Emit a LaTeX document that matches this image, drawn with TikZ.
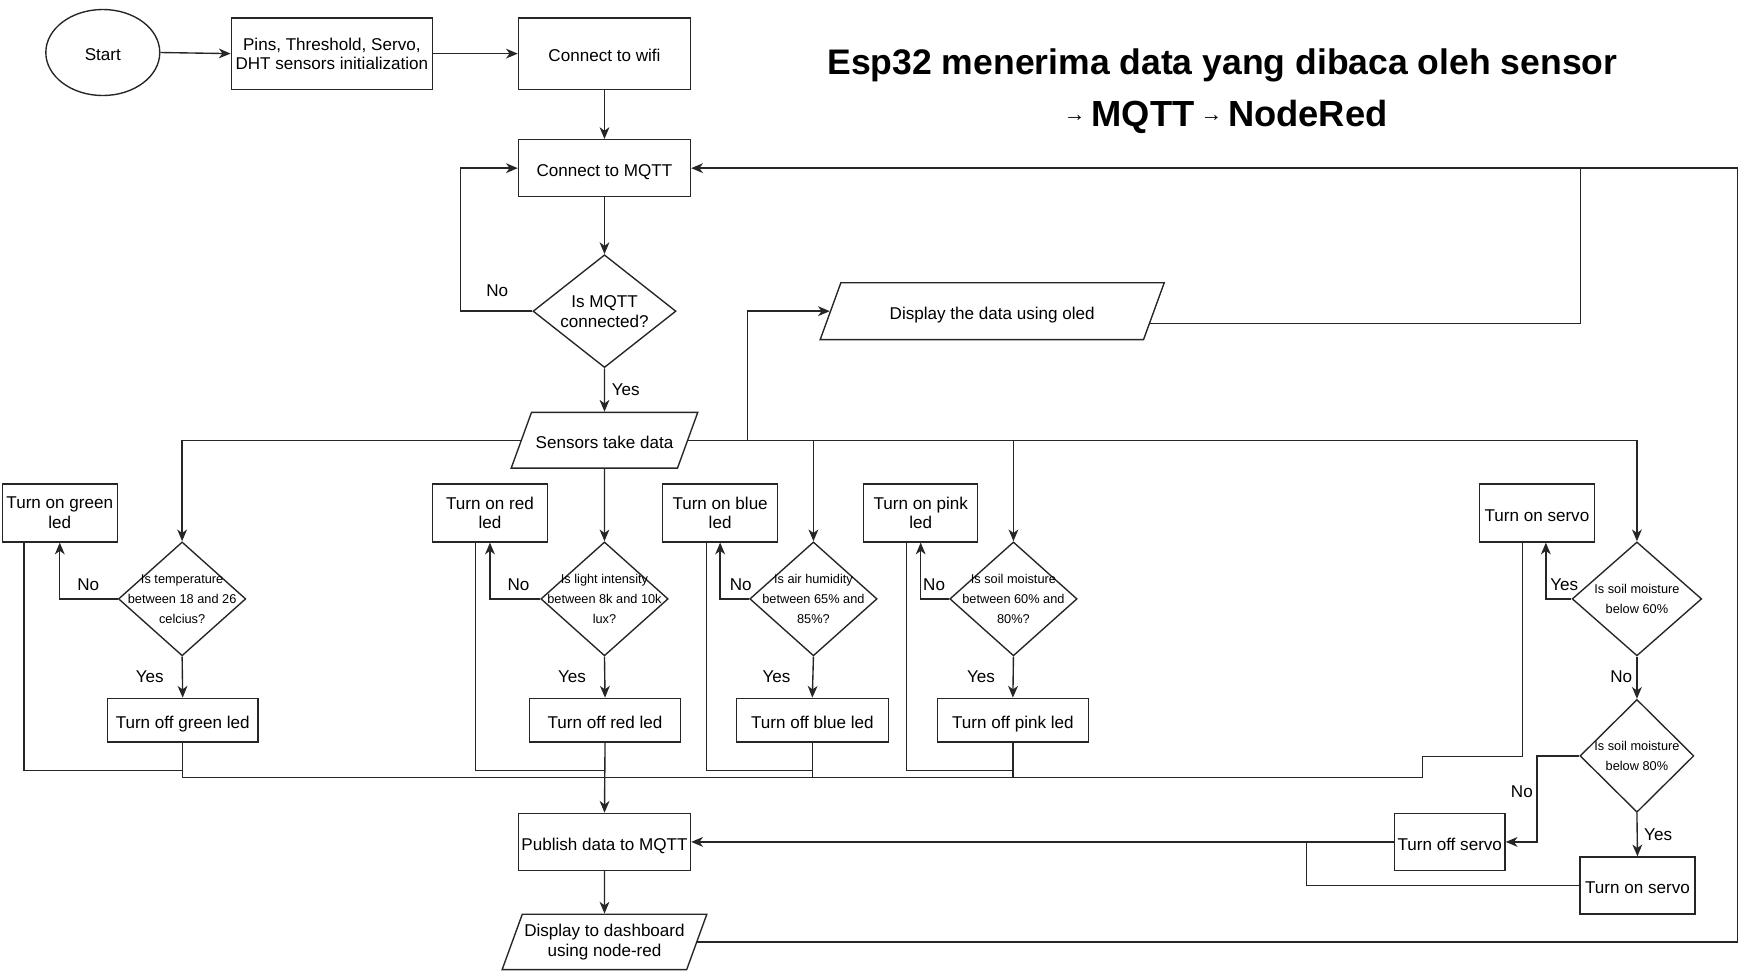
\documentclass[tikz,border=0pt]{standalone}
\usepackage{fontspec}
\setmainfont{Liberation Sans}
\usetikzlibrary{shapes.geometric,arrows.meta,calc}
\tikzset{
  ln/.style={line width=0.7pt, draw=black!85},
  arr/.style={ln, -{Stealth[length=6pt,width=5pt,inset=1.8pt]}},
  txt/.style={font=\fontsize{8.7}{9.9}\selectfont},
  box/.style={txt, draw=black!85, line width=0.7pt, rectangle, inner sep=1pt, align=center},
  one/.style={text height=8.6pt, text depth=0.2pt},
  dtext/.style={font=\fontsize{6.5}{10.2}\selectfont, align=center, inner sep=0pt},
  dia/.style={draw=black!85, line width=0.7pt, diamond, inner sep=0pt},
  para/.style={txt, draw=black!85, line width=0.7pt, trapezium, trapezium left angle=70,
    trapezium right angle=110, trapezium stretches body, inner xsep=1pt, align=center},
  lbl/.style={txt, inner sep=0pt},
}
\begin{document}
\begin{tikzpicture}[x=0.02cm,y=-0.02cm]
\useasboundingbox (0,0) rectangle (1568,874);

% title
\node[anchor=base, font=\fontsize{18.1}{20}\selectfont\bfseries, inner sep=0pt] (T1) at (1094,67) {Esp32 menerima data yang dibaca oleh sensor};
\node[anchor=base, font=\fontsize{18.5}{20}\selectfont\bfseries, inner sep=0pt] (T2) at (1097,113) {\raisebox{2.6pt}{\fontsize{11}{11}\selectfont\mdseries →}\,MQTT\,\raisebox{2.6pt}{\fontsize{11}{11}\selectfont\mdseries →}\,NodeRed};

% top chain
\node[txt, one, draw=black!85, line width=0.7pt, ellipse, minimum width=2.04cm, minimum height=1.54cm, inner sep=0pt] (ST) at (92,47) {Start};
\node[box, minimum width=3.6cm, minimum height=1.28cm] (IN) at (297,48) {Pins, Threshold, Servo,\\DHT sensors initialization};
\node[box, one, minimum width=3.08cm, minimum height=1.28cm] (WF) at (541,48) {Connect to wifi};
\node[box, one, minimum width=3.08cm, minimum height=1.02cm] (CM) at (541,150.5) {Connect to MQTT};
\node[dia, minimum width=2.56cm, minimum height=2.02cm, label={[dtext, font=\fontsize{8.7}{10.2}\selectfont]center:Is MQTT\\connected?}] (DM) at (541,278.5) {};
\node[para, minimum width=3.34cm, text height=8.2pt, text depth=0.2pt, inner ysep=10pt] (S) at (541,394) {Sensors take data};
\node[para, minimum width=6.16cm, text height=8.2pt, text depth=0.2pt, inner ysep=10.3pt] (O) at (888,278.5) {Display the data using oled};

% green
\node[box, minimum width=2.06cm, minimum height=1.04cm] (G1) at (53.5,459) {Turn on green\\led};
\node[dia, minimum width=2.28cm, minimum height=2.04cm, label={[dtext]center:Is temperature\\between 18 and 26\\celcius?}] (D1) at (163,536) {};
\node[box, one, minimum width=2.7cm, minimum height=0.78cm] (G2) at (163.5,644.5) {Turn off green led};
% red
\node[box, minimum width=2.06cm, minimum height=1.04cm] (R1) at (438.5,459) {Turn on red\\led};
\node[dia, minimum width=2.28cm, minimum height=2.04cm, label={[dtext]center:Is light intensity\\between 8k and 10k\\lux?}] (D2) at (541,536) {};
\node[box, one, minimum width=2.7cm, minimum height=0.78cm] (R2) at (541.5,644.5) {Turn off red led};
% blue
\node[box, minimum width=2.06cm, minimum height=1.04cm] (B1) at (644.5,459) {Turn on blue\\led};
\node[dia, minimum width=2.28cm, minimum height=2.04cm, label={[dtext]center:Is air humidity\\between 65\% and\\85\%?}] (D3) at (728,536) {};
\node[box, one, minimum width=2.72cm, minimum height=0.78cm] (B2) at (727,644.5) {Turn off blue led};
% pink
\node[box, minimum width=2.04cm, minimum height=1.04cm] (P1) at (824,459) {Turn on pink\\led};
\node[dia, minimum width=2.28cm, minimum height=2.04cm, label={[dtext]center:Is soil moisture\\between 60\% and\\80\%?}] (D4) at (907,536) {};
\node[box, one, minimum width=2.7cm, minimum height=0.78cm] (P2) at (906.5,644.5) {Turn off pink led};
% servo
\node[box, one, minimum width=2.06cm, minimum height=1.04cm] (SV1) at (1375.5,459) {Turn on servo};
\node[dia, minimum width=2.32cm, minimum height=2.04cm, label={[dtext]center:Is soil moisture\\below 60\%}] (D5) at (1465,536) {};
\node[dia, minimum width=2.04cm, minimum height=2.02cm, label={[dtext]center:Is soil moisture\\below 80\%}] (D6) at (1465,676.5) {};
\node[box, one, minimum width=1.98cm, minimum height=1.02cm] (SV2) at (1297.5,753.5) {Turn off servo};
\node[box, one, minimum width=2.06cm, minimum height=1.02cm] (SV3) at (1465.5,792.5) {Turn on servo};

% bottom
\node[box, one, minimum width=3.08cm, minimum height=1.02cm] (PUB) at (541,753.5) {Publish data to MQTT};
\node[para, minimum width=3.64cm, inner ysep=5.1pt] (DD) at (541,843) {Display to dashboard\\using node-red};

% labels
\node[lbl] (l0) at (445,260) {No};
\node[lbl] (l1) at (560,349) {Yes};
\node[lbl] (l2) at (79,523) {No};
\node[lbl] (l3) at (134,606) {Yes};
\node[lbl] (l4) at (464,523) {No};
\node[lbl] (l5) at (512,606) {Yes};
\node[lbl] (l6) at (663,523) {No};
\node[lbl] (l7) at (695,606) {Yes};
\node[lbl] (l8) at (836,523) {No};
\node[lbl] (l9) at (878,606) {Yes};
\node[lbl] (l10) at (1400,523) {Yes};
\node[lbl] (l11) at (1451,606) {No};
\node[lbl] (l12) at (1362,709) {No};
\node[lbl] (l13) at (1484,747) {Yes};

% coordinates
\coordinate (OX) at (669,0);
\coordinate (BY) at (0,696);
\coordinate (BK) at (1273,677);
\coordinate (RX) at (1555,150.5);

% connectors
\draw[arr] (ST.east) -- (IN.west);
\draw[arr] (IN.east) -- (WF.west);
\draw[arr] (WF.south) -- (CM.north);
\draw[arr] (CM.south) -- (DM.north);
\draw[arr] (DM.west) -- ++(-64,0) |- (CM.west);
\draw[arr] (DM.south) -- (S.north);
\draw[arr] (S.west) -| (D1.north);
\draw[arr] (S.south) -- (D2.north);
\draw[arr] (S.east) -| (D5.north);
\draw[arr] (S.east -| D3.north) -- (D3.north);
\draw[arr] (S.east -| D4.north) -- (D4.north);
\draw[arr] (S.east -| OX) |- (O.west);
\draw[ln] ($(O.east)+(-4,11)$) -| ($(CM.east)+(796,0)$);

\draw[arr] (D1.west) -| (G1.south);
\draw[arr] (D1.south) -- (G2.north);
\draw[arr] (D2.west) -| (R1.south);
\draw[arr] (D2.south) -- (R2.north);
\draw[arr] (D3.west) -| (B1.south);
\draw[arr] (D3.south) -- (B2.north);
\draw[arr] (D4.west) -| (P1.south);
\draw[arr] (D4.south) -- (P2.north);

\draw[ln] ($(G1.south west)+(20,0)$) |- ($(G2.south)+(0,25)$);
\draw[ln] ($(R1.south west)+(39,0)$) |- ($(R2.south)+(0,25)$);
\draw[ln] ($(B1.south west)+(40,0)$) |- ($(B2.south)+(0,25)$);
\draw[ln] ($(P1.south west)+(39,0)$) |- ($(P2.south)+(0,25)$);

\draw[ln] (G2.south) |- (BK |- BY) -- (BK) -| ($(SV1.south)+(-13,0)$);
\draw[ln] (B2.south) -- (B2.south |- BY);
\draw[ln] (P2.south) -- (P2.south |- BY);
\draw[arr] (R2.south) -- (PUB.north);

\draw[arr] (D5.west) -| ($(SV1.south)+(8,0)$);
\draw[arr] (D5.south) -- (D6.north);
\draw[arr] (D6.west) -- ++(-38,0) |- (SV2.east);
\draw[arr] (D6.south) -- (SV3.north);
\draw[arr] (SV2.west) -- (PUB.east);
\draw[ln] (SV3.west) -| ($(SV2.west)+(-78,0)$);

\draw[arr] (PUB.south) -- (DD.north);
\draw[arr] (DD.east) -| (RX) -- (CM.east);
\end{tikzpicture}
\end{document}
